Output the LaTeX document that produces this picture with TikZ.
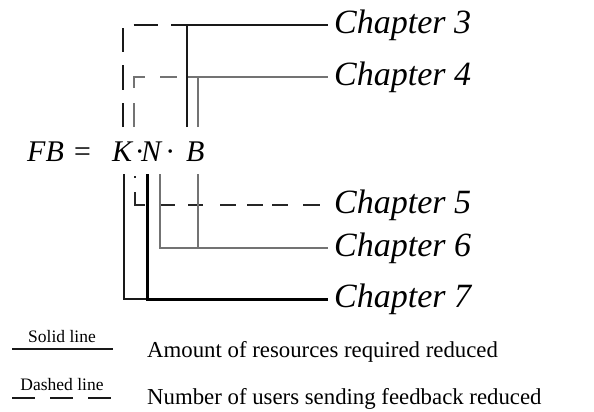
\documentclass[tikz,border=0pt]{standalone}
\usepackage{fontspec}
\setmainfont{Liberation Serif}
\begin{document}
\begin{tikzpicture}[x=1pt,y=-1pt,
  chap/.style={anchor=west, inner xsep=6pt, inner ysep=0pt, font=\fontsize{34}{38}\selectfont\itshape},
  fml/.style={anchor=base west, inner sep=0pt, font=\fontsize{30}{34}\selectfont\itshape},
  legsmall/.style={anchor=base, inner sep=0pt, font=\fontsize{17.5}{20}\selectfont},
  legtext/.style={anchor=base west, inner sep=0pt, font=\fontsize{22.8}{26}\selectfont},
  blk/.style={line width=2pt, black!90},
  thk/.style={line width=3pt, black},
  gry/.style={line width=1.5pt, black!55},
  blkdash/.style={line width=2pt, black!90, dash pattern=on 24pt off 13.5pt},
  grydash/.style={line width=1.5pt, black!55,
    dash pattern=on 24pt off 15pt on 22pt off 15pt on 17pt off 11pt on 200pt off 10pt},
  thindash/.style={line width=1.5pt, black!85,
    dash pattern=on 2pt off 14pt on 23pt off 15pt on 15pt off 13pt on 15pt off 17pt on 16pt off 11pt on 16pt off 9pt on 16pt off 15pt on 17pt off 20pt},
  legline/.style={line width=2pt, black!90},
  legdash/.style={line width=2pt, black!90, dash pattern=on 23pt off 15pt},
]
\useasboundingbox (0,0) rectangle (594,412);

% chapter labels
\node[chap] (c3) at (328,25) {Chapter 3};
\node[chap] (c4) at (328,77) {Chapter 4};
\node[chap] (c5) at (328,205) {Chapter 5};
\node[chap] (c6) at (328,248) {Chapter 6};
\node[chap] (c7) at (328,299) {Chapter 7};

% formula
\node[fml] (fFB) at (27,161) {FB};
\node[fml] (fEq) at (72,161) {=};
\node[fml] (fK) at (112,161) {K};
\node[fml] (fD1) at (135.5,161) {·};
\node[fml] (fN) at (141,161) {N};
\node[fml] (fD2) at (166,161) {·};
\node[fml] (fB) at (186,161) {B};

% column ends above the formula
\coordinate (kTop) at (123,127);
\coordinate (nTop) at (134,127);
\coordinate (bTop) at (187,127);
\coordinate (gTop) at (198,127);
% column ends below the formula
\coordinate (kBot) at (124,174);
\coordinate (iBot) at (135,176);
\coordinate (nBot) at (147,174);
\coordinate (ngBot) at (160,174);
\coordinate (bgBot) at (198,174);

% upper connectors
\draw[blkdash] (kTop) |- (c3.west);
\draw[grydash] (nTop) |- (c4.west);
\draw[gry] (gTop) |- (c4.west);
\draw[blk] (bTop) |- (c3.west);

% lower connectors
\draw[thindash] (iBot) |- (c5.west);
\draw[gry] (ngBot) |- (c6.west);
\draw[gry] (bgBot) |- (c6.west);
\draw[blk] (kBot) |- (c7.west);
\draw[thk] (nBot) |- (c7.west);

% legend
\node[legsmall] (sl) at (62,342) {Solid line};
\coordinate (sla) at (12,349);
\coordinate (slb) at (113,349);
\draw[legline] (sla) -- (slb);
\node[legtext] (amt) at (147,357) {Amount of resources required reduced};

\node[legsmall] (dl) at (62,390) {Dashed line};
\coordinate (dla) at (12,398);
\coordinate (dlb) at (112,398);
\draw[legdash] (dla) -- (dlb);
\node[legtext] (num) at (147,404) {Number of users sending feedback reduced};
\end{tikzpicture}
\end{document}
